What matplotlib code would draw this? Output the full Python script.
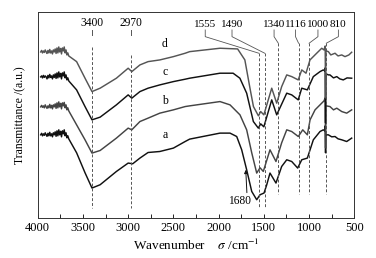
import numpy as np
import matplotlib
matplotlib.use("Agg")
import matplotlib.pyplot as plt

plt.rcParams['font.family'] = ['Liberation Serif', 'DejaVu Serif']
plt.rcParams['font.size'] = 8
plt.rcParams['mathtext.fontset'] = 'stix'

# noisy start of every spectrum (3967 -> 3657 cm-1, every 10 cm-1)
noise_wn = list(range(3967, 3656, -10))
noise_d = [166, 167.5, 165, 167, 165.5, 168, 166, 164.5, 167.5, 165, 168.5, 165, 167, 164, 168, 166,
           169, 164.5, 170, 165, 171, 166, 169.5, 164, 170, 167, 171, 165, 168, 163, 165, 162]
noise_c = [141, 142, 140, 142.5, 140.5, 142, 141, 139, 142.5, 140, 143.5, 140.5, 142, 139, 143, 140.5,
           144, 139.5, 145, 140, 146, 141, 144.5, 139, 145, 142, 146, 140, 143, 138, 140, 137]
noise_b = [111, 112.5, 110.5, 112, 110, 113, 111, 109.5, 112, 110, 113.5, 110, 112.5, 109, 113, 111,
           114, 109.5, 115, 110, 116, 111, 114.5, 109, 115, 112, 115.5, 110, 113, 108, 110, 107]
noise_a = [83, 84.5, 82, 84, 82.5, 85, 83, 81.5, 84.5, 82, 85.5, 82, 84, 81, 85, 83,
           86, 81.5, 87, 82, 88, 83, 86.5, 81, 87, 84, 88, 82, 85, 80, 82, 79]

# rest of the spectra: wavenumber (cm-1), transmittance (a.u., offset)
wn_d = [3570, 3477, 3400, 3310, 3130, 3000, 2960, 2870, 2780, 2650, 2500, 2370, 2320, 1985, 1790,
        1710, 1650, 1615, 1560, 1535, 1500, 1413, 1358, 1303, 1247, 1192, 1120, 1081, 1034, 990,
        916, 860, 835, 822, 818, 814, 810, 787, 760, 713, 680, 639, 603, 560, 529]
t_d = [156.3, 139.7, 126.3, 129.7, 139.7, 149.7, 146.3, 153, 156.3, 158, 161.3, 164.7, 166.3, 169.7, 169,
       158, 128, 111.3, 102, 106.3, 103, 129.7, 114.7, 131.3, 143, 141.3, 138, 148, 144.7, 158,
       164.7, 169.7, 168, 172, 120, 165, 167, 166.3, 163, 164.7, 162, 163, 161.3, 163, 165.7]

wn_c = [3570, 3477, 3400, 3310, 3130, 3000, 2960, 2870, 2780, 2650, 2500, 2370, 2320, 1985, 1840,
        1765, 1690, 1616, 1561, 1535, 1500, 1413, 1358, 1247, 1192, 1120, 1081, 1019, 953, 879,
        843, 826, 822, 818, 814, 810, 787, 769, 730, 694, 660, 622, 580, 529]
t_c = [128, 111.3, 98, 100.7, 113, 123, 119.7, 126.3, 129.7, 133, 136.3, 138.7, 139.7, 144.7, 144.7,
       139.7, 124.7, 96.3, 89.7, 94, 91, 118, 103, 124.7, 123, 118, 129.7, 128, 141.3, 146.3,
       148, 147, 150, 95, 140, 144, 143, 143, 140, 141.3, 139, 138, 140, 139.7]

wn_b = [3570, 3477, 3400, 3310, 3130, 3000, 2960, 2870, 2780, 2650, 2500, 2370, 2320, 1985, 1874,
        1764, 1690, 1634, 1579, 1542, 1506, 1432, 1366, 1303, 1247, 1192, 1119, 1070, 1019, 989,
        934, 879, 835, 822, 818, 814, 810, 769, 730, 694, 639, 584, 529]
t_b = [93, 78, 64.7, 67.3, 79.7, 89.7, 88, 96.3, 99.7, 104.7, 108, 111.3, 112, 116.3, 113,
       103, 88, 65, 44.7, 50, 46.3, 68, 56.3, 75, 88, 86.3, 81.3, 88, 83, 98,
       108, 113, 117, 120, 70, 110, 112, 111.3, 108, 109.7, 106.3, 104.7, 108]

wn_a = [3570, 3477, 3400, 3310, 3130, 3000, 2950, 2870, 2780, 2650, 2500, 2370, 2320, 1985, 1874,
        1800, 1745, 1690, 1634, 1579, 1542, 1498, 1468, 1432, 1366, 1303, 1247, 1192, 1126, 1081,
        1019, 953, 879, 843, 826, 822, 818, 814, 810, 787, 750, 713, 680, 639, 584, 529]
t_a = [65, 45, 29.7, 33, 46.3, 54.7, 54, 59.7, 65.3, 66.3, 69.7, 76.3, 78.7, 84.7, 84.7,
       81.3, 68, 48, 26.3, 18, 23, 24.7, 33, 44.7, 34.7, 51.3, 58, 56.3, 49.7, 58,
       59.7, 78, 86.3, 88, 87, 92, 65, 80, 83, 83, 81, 81.3, 79, 78, 76.3, 79.7]

curves = [
    ("a", noise_a, wn_a, t_a, "#111111", 77),
    ("b", noise_b, wn_b, t_b, "#444444", 111),
    ("c", noise_c, wn_c, t_c, "#111111", 140),
    ("d", noise_d, wn_d, t_d, "#555555", 168),
]

# band markers: (label, wavenumber, label x, bend height, bottom of dashed line)
bands = [
    ("1555", 1555, 2148, 164.7, 11),
    ("1490", 1490, 1852, 164.7, 11),
    ("1340", 1340, 1387, 174.7, 24),
    ("1116", 1116, 1150, 174.7, 24),
    ("1000", 1000, 902, 174.7, 24),
    ("810", 810, 676, 174.7, 24),
]

fig = plt.figure(figsize=(3.76, 2.58), dpi=100)
ax = fig.add_axes([0.1003, 0.1562, 0.842, 0.7973])

for name, nz, wn, t, col, ly in curves:
    x = noise_wn + wn
    y = nz + t
    ax.plot(x, y, color=col, lw=1.05)
    ax.text(2593, ly, name, ha='center', va='bottom', fontsize=8.5)

dcol = '#555555'
# 3400 and 2970
for lab, w, top in [("3400", 3400, 171), ("2970", 2970, 163)]:
    ax.text(w, 189, lab, ha='center', va='bottom', fontsize=8.3)
    ax.plot([w, w], [188, 183], color=dcol, lw=0.7)
    ax.plot([w, w], [top, 10], color=dcol, lw=0.7, ls=(0, (3, 2)))

for lab, w, lx, bend, bot in bands:
    ax.text(lx, 189, lab, ha='center', va='bottom', fontsize=8)
    ax.plot([lx, lx, w], [188, 181.3, bend], color=dcol, lw=0.6)
    ax.plot([w, w], [bend, bot], color=dcol, lw=0.7, ls=(0, (3, 2)))

ax.annotate("1680", xy=(1700, 48), xytext=(1770, 16.3), ha='center', va='center', fontsize=8.3,
            arrowprops=dict(arrowstyle='-|>', color='#111111', lw=0.7, mutation_scale=5,
                            shrinkA=0, shrinkB=0, relpos=(0.83, 1.0)))

ax.set_xlim(4000, 500)
ax.set_ylim(0, 206)
ax.set_xticks([4000, 3500, 3000, 2500, 2000, 1500, 1000, 500])
ax.set_xticks([3750, 3250, 2750, 2250, 1750, 1250, 750], minor=True)
ax.tick_params(axis='x', which='both', direction='in', length=3, width=0.6, top=False,
               pad=3, labelsize=9)
ax.set_yticks([])
for s in ax.spines.values():
    s.set_linewidth(0.7)
    s.set_color('#333333')
ax.set_xlabel(r"Wavenumber    $\sigma$ /cm$^{-1}$", fontsize=9.5, labelpad=3)
ax.set_ylabel("Transmittance /(a.u.)", fontsize=8.5, labelpad=8)

fig.savefig("out.png", dpi=100)
